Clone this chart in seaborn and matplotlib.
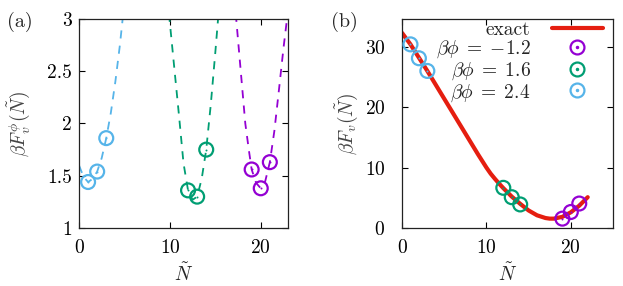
import matplotlib
matplotlib.use("Agg")
import matplotlib.pyplot as plt
import seaborn as sns
from matplotlib.lines import Line2D
from matplotlib.legend_handler import HandlerTuple

# ---- data ----
# panel (a): beta F_v^phi at integer N for each beta*phi
n_m12 = [19, 20, 21]
f_m12 = [1.56, 1.38, 1.63]
n_16 = [12, 13, 14]
f_16 = [1.36, 1.30, 1.75]
n_24 = [1, 2, 3]
f_24 = [1.44, 1.54, 1.86]

# dashed guide curves in panel (a)
curve_n_24 = [0, 0.5, 1, 1.5, 2, 2.5, 3, 3.5, 4, 4.5, 4.9]
curve_f_24 = [1.60, 1.49, 1.44, 1.47, 1.54, 1.67, 1.86, 2.10, 2.40, 2.75, 3.08]
curve_n_16 = [9.9, 10.5, 11.0, 11.5, 12, 12.5, 13, 13.5, 14, 14.5, 15, 15.35]
curve_f_16 = [3.05, 2.52, 2.08, 1.62, 1.36, 1.27, 1.30, 1.47, 1.75, 2.18, 2.68, 3.05]
curve_n_m12 = [17.25, 17.8, 18.3, 18.7, 19, 19.5, 20, 20.5, 21, 21.5, 22, 22.5, 23.0]
curve_f_m12 = [3.05, 2.50, 2.00, 1.74, 1.56, 1.43, 1.38, 1.45, 1.63, 1.93, 2.32, 2.72, 3.08]

# panel (b): beta F_v
fv_m12 = [1.55, 2.65, 4.05]
fv_16 = [6.65, 5.1, 3.9]
fv_24 = [30.4, 28.1, 26.0]
exact_n = [0, 1, 2, 3, 4, 5, 6, 7, 8, 9, 10, 10.5, 11, 11.5, 12, 13, 14, 15, 16,
           17, 17.5, 18, 19, 20, 21, 22]
exact_f = [32.3, 30.4, 28.2, 26.0, 23.7, 21.4, 19.1, 16.8, 14.5, 12.2, 10.0, 9.0,
           8.15, 7.35, 6.6, 5.2, 4.0, 2.9, 2.1, 1.65, 1.55, 1.55, 1.85, 2.6, 3.7, 5.1]

labels = [r"$\beta\phi\;=\;{-}1.2$", r"$\beta\phi\;=\;1.6$", r"$\beta\phi\;=\;2.4$"]
yticks_a = [1, 1.5, 2, 2.5, 3]
yticklabels_a = ["1", "1.5", "2", "2.5", "3"]

purple = "#9400D3"
green = "#009E73"
blue = "#56B4E9"
red = "#E51E10"

sns.set_style("ticks")
plt.rcParams["font.family"] = "serif"
plt.rcParams["font.serif"] = ["cmr10"]
plt.rcParams["mathtext.fontset"] = "cm"
plt.rcParams["axes.formatter.use_mathtext"] = True
plt.rcParams["axes.unicode_minus"] = False
plt.rcParams["font.size"] = 14

fig = plt.figure(figsize=(6.23, 2.86), dpi=100)
ax1 = fig.add_axes([0.1268, 0.2028, 0.3355, 0.7308])
ax2 = fig.add_axes([0.6453, 0.2028, 0.3387, 0.7308])

MS = 100


def circles(ax, x, y, c):
    sns.scatterplot(x=x, y=y, ax=ax, marker="o", s=MS, facecolors="none",
                    edgecolor=c, linewidth=1.6, zorder=4)
    ax.scatter(x, y, s=2, color=c, zorder=5, linewidths=0)


# panel (a)
for cn, cf, c in [(curve_n_24, curve_f_24, blue), (curve_n_16, curve_f_16, green),
                  (curve_n_m12, curve_f_m12, purple)]:
    sns.lineplot(x=cn, y=cf, ax=ax1, color=c, linestyle=(0, (4.5, 4)), lw=1.3, sort=False)
circles(ax1, n_24, f_24, blue)
circles(ax1, n_16, f_16, green)
circles(ax1, n_m12, f_m12, purple)
ax1.set_xlim(0, 23)
ax1.set_ylim(1, 3)
ax1.set_xticks([0, 10, 20])
ax1.set_yticks(yticks_a)
ax1.set_yticklabels(yticklabels_a)
ax1.set_xlabel(r"$\tilde{N}$")
ax1.set_ylabel(r"$\beta F_v^{\phi}(\tilde{N})$", color="#444444")
ax1.yaxis.set_label_coords(-0.225, 0.5)
ax1.xaxis.set_label_coords(0.5, -0.165)

# panel (b)
sns.lineplot(x=exact_n, y=exact_f, ax=ax2, color=red, lw=3, sort=False)
circles(ax2, n_m12, fv_m12, purple)
circles(ax2, n_16, fv_16, green)
circles(ax2, n_24, fv_24, blue)
ax2.set_xlim(0, 25)
ax2.set_ylim(0, 34.6)
ax2.set_xticks([0, 10, 20])
ax2.set_yticks([0, 10, 20, 30])
ax2.set_xlabel(r"$\tilde{N}$")
ax2.set_ylabel(r"$\beta F_v(\tilde{N})$", color="#444444")
ax2.yaxis.set_label_coords(-0.2, 0.5)
ax2.xaxis.set_label_coords(0.5, -0.165)

handles = [Line2D([], [], color=red, lw=3)]
for c in [purple, green, blue]:
    h1 = Line2D([], [], ls="none", marker="o", ms=10, mfc="none", mec=c, mew=1.6)
    h2 = Line2D([], [], ls="none", marker="o", ms=1.5, color=c)
    handles.append((h1, h2))
ax2.legend(handles, ["exact"] + labels, loc="upper right", frameon=False,
           markerfirst=False, handlelength=2.6, handletextpad=1.1,
           labelspacing=0.0, borderaxespad=0, borderpad=0.1,
           bbox_to_anchor=(0.96, 1.0),
           handler_map={tuple: HandlerTuple(ndivide=1, pad=0)})

for ax in (ax1, ax2):
    ax.tick_params(direction="in", top=True, right=True, length=4, width=0.8,
                   pad=5, colors="black")
    ax.tick_params(axis="x", pad=8)
    for s in ax.spines.values():
        s.set_visible(True)
        s.set_linewidth(0.9)
        s.set_color("#222222")
ax2.tick_params(axis="y", pad=12)

fig.text(0.012, 0.905, "(a)", fontsize=14.5)
fig.text(0.532, 0.905, "(b)", fontsize=14.5)

fig.savefig("out.png", dpi=100)
plt.close(fig)
